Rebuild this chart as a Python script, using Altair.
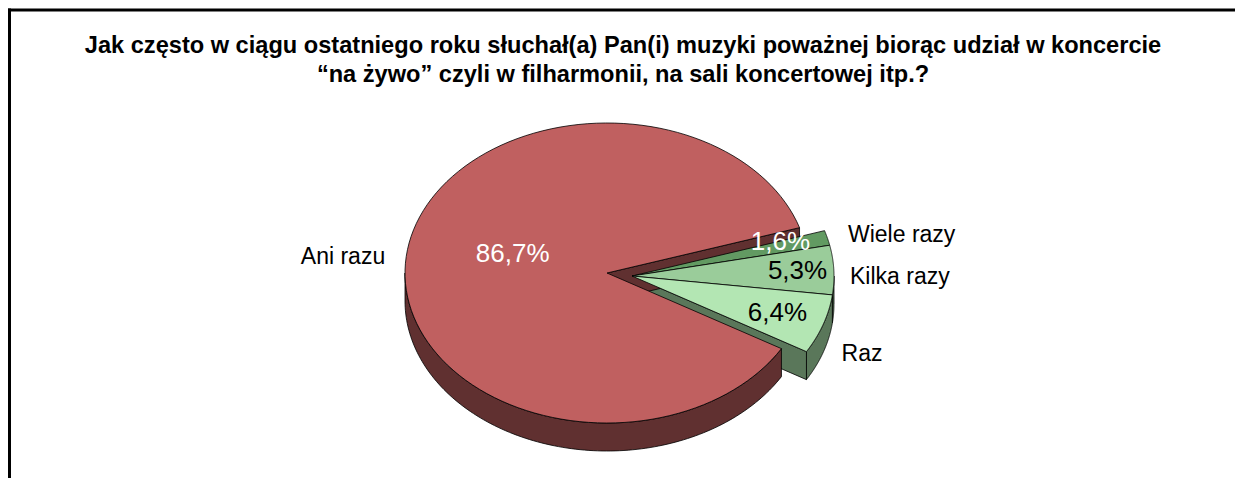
import altair as alt
import pandas as pd

# ---------------- data ----------------
categories = ["Wiele razy", "Kilka razy", "Raz", "Ani razu"]
values = [1.6, 5.3, 6.4, 86.7]
exploded = [1, 1, 1, 0]
title_lines = [
    "Jak często w ciągu ostatniego roku słuchał(a) Pan(i) muzyki poważnej biorąc udział w koncercie",
    "\u201cna żywo\u201d czyli w filharmonii, na sali koncertowej itp.?",
]

# ---------------- style ----------------
top_colors = ["#629A62", "#9ACC9A", "#B3E6B3", "#C06060"]
side_colors = ["#3F5E3F", "#4F6A4F", "#5A775A", "#603030"]
pct_colors = ["#FFFFFF", "#000000", "#000000", "#FFFFFF"]
pct_radius = [0.76, 0.82, 0.76, 0.47]
pct_dy = [-5, 0, 0, -11]
cat_dx = [5, 0, 3, -5]
cat_dy = [0, 8, -2, 2]

W, H = 1227, 470
CX, CY, RX, RY, DEPTH = 599, 265, 202, 150, 28
EXPL_DX, EXPL_DY = 25, 3
START = -17.6
N = 120
LABEL_R = 1.08
FONT = "Liberation Sans"
TITLE_X, TITLE_Y0, TITLE_LH = 615, 38, 29

df = pd.DataFrame({
    "cat": categories,
    "value": values,
    "exploded": exploded,
    "order": list(range(len(categories))),
    "top": top_colors,
    "side": side_colors,
    "pct_color": pct_colors,
    "pct_r": pct_radius,
    "pct_dy": pct_dy,
    "cat_dx": cat_dx,
    "cat_dy": cat_dy,
})

xs = alt.Scale(domain=[0, W], nice=False, zero=False)
ys = alt.Scale(domain=[0, H], nice=False, zero=False, reverse=True)


def base(flag=None):
    c = (
        alt.Chart(df)
        .transform_joinaggregate(total="sum(value)")
        .transform_window(cum="sum(value)", sort=[alt.SortField("order")], frame=[None, 0])
        .transform_calculate(
            a0=f"{START} + 360 * (datum.cum - datum.value) / datum.total",
            a1=f"{START} + 360 * datum.cum / datum.total",
            cx=f"{CX} + datum.exploded * {EXPL_DX}",
            cy=f"{CY} + datum.exploded * {EXPL_DY}",
        )
        .transform_calculate(mid="(datum.a0 + datum.a1) / 2 * PI / 180")
    )
    if flag is not None:
        c = c.transform_filter(f"datum.exploded == {flag}")
    return c


def poly(chart, color_field):
    return chart.mark_line(stroke="black", strokeWidth=0.8, strokeJoin="round").encode(
        x=alt.X("px:Q", scale=xs, axis=None),
        y=alt.Y("py:Q", scale=ys, axis=None),
        fill=alt.Fill(f"{color_field}:N", scale=None),
        detail="cat:N",
        order="k:Q",
    )


def top_layer(flag):
    c = (
        base(flag)
        .transform_calculate(pts=f"sequence(0, {N + 3})")
        .transform_flatten(["pts"], as_=["k"])
        .transform_calculate(
            ang=f"(datum.a0 + (datum.a1 - datum.a0) * (datum.k <= {N} ? datum.k / {N} : 0)) * PI / 180"
        )
        .transform_calculate(
            px=f"datum.k == {N + 1} ? datum.cx : datum.cx + {RX} * cos(datum.ang)",
            py=f"datum.k == {N + 1} ? datum.cy : datum.cy + {RY} * sin(datum.ang)",
        )
    )
    return poly(c, "top")


def rim_layer(flag):
    c = (
        base(flag)
        .transform_calculate(lo="max(datum.a0, 0)", hi="min(datum.a1, 180)")
        .transform_filter("datum.lo < datum.hi")
        .transform_calculate(pts=f"sequence(0, {2 * N + 3})")
        .transform_flatten(["pts"], as_=["k"])
        .transform_calculate(
            t=f"datum.k <= {N} ? datum.k / {N} : (datum.k <= {2 * N + 1} ? 1 - (datum.k - {N + 1}) / {N} : 0)",
            bot=f"(datum.k > {N} && datum.k <= {2 * N + 1}) ? 1 : 0",
        )
        .transform_calculate(ang="(datum.lo + (datum.hi - datum.lo) * datum.t) * PI / 180")
        .transform_calculate(
            px=f"datum.cx + {RX} * cos(datum.ang)",
            py=f"datum.cy + {RY} * sin(datum.ang) + datum.bot * {DEPTH}",
        )
    )
    return poly(c, "side")


def face_layer(flag):
    c = (
        base(flag)
        .transform_joinaggregate(gend="max(a1)", groupby=["exploded"])
        .transform_filter("datum.a1 == datum.gend && cos(datum.a1 * PI / 180) > 0")
        .transform_calculate(pts="sequence(0, 5)")
        .transform_flatten(["pts"], as_=["k"])
        .transform_calculate(rad="datum.a1 * PI / 180",
                             onrim="(datum.k == 1 || datum.k == 2) ? 1 : 0",
                             bot="(datum.k == 2 || datum.k == 3) ? 1 : 0")
        .transform_calculate(
            px=f"datum.cx + datum.onrim * {RX} * cos(datum.rad)",
            py=f"datum.cy + datum.onrim * {RY} * sin(datum.rad) + datum.bot * {DEPTH}",
        )
    )
    return poly(c, "side")


pct = (
    base()
    .transform_calculate(
        px=f"datum.cx + {RX} * datum.pct_r * cos(datum.mid)",
        py=f"datum.cy + {RY} * datum.pct_r * sin(datum.mid) + datum.pct_dy",
        label="replace(format(datum.value, '.1f'), '.', ',') + '%'",
    )
    .mark_text(font=FONT, fontSize=26, baseline="middle", align="center")
    .encode(
        x=alt.X("px:Q", scale=xs, axis=None),
        y=alt.Y("py:Q", scale=ys, axis=None),
        text="label:N",
        color=alt.Color("pct_color:N", scale=None),
    )
)


def cat_labels(right):
    cond = "cos(datum.mid) >= 0" if right else "cos(datum.mid) < 0"
    return (
        base()
        .transform_filter(cond)
        .transform_calculate(
            px=f"datum.cx + {RX} * {LABEL_R} * cos(datum.mid) + datum.cat_dx",
            py=f"datum.cy + {RY} * {LABEL_R} * sin(datum.mid) + (sin(datum.mid) > 0 ? {DEPTH} : 0) + datum.cat_dy",
        )
        .mark_text(font=FONT, fontSize=23, baseline="middle", align="left" if right else "right",
                   color="black")
        .encode(
            x=alt.X("px:Q", scale=xs, axis=None),
            y=alt.Y("py:Q", scale=ys, axis=None),
            text="cat:N",
        )
    )


title_df = pd.DataFrame({"line": title_lines, "i": list(range(len(title_lines)))})
title = (
    alt.Chart(title_df)
    .transform_calculate(px=f"{TITLE_X}", py=f"{TITLE_Y0} + datum.i * {TITLE_LH}")
    .mark_text(font=FONT, fontSize=23.6, fontWeight="bold", baseline="middle", align="center",
               color="black")
    .encode(
        x=alt.X("px:Q", scale=xs, axis=None),
        y=alt.Y("py:Q", scale=ys, axis=None),
        text="line:N",
    )
)

one = pd.DataFrame({"a": [0]})
border_left = alt.Chart(one).mark_rule(color="black", strokeWidth=3).encode(
    x=alt.value(1.5), y=alt.value(0.5), y2=alt.value(H)
)
border_top = alt.Chart(one).mark_rule(color="black", strokeWidth=3).encode(
    x=alt.value(0), x2=alt.value(W), y=alt.value(2)
)

chart = (
    alt.layer(
        rim_layer(1), face_layer(1),
        rim_layer(0), face_layer(0),
        top_layer(0), top_layer(1),
        pct, cat_labels(True), cat_labels(False),
        title, border_left, border_top,
    )
    .properties(width=W, height=H, padding=0, autosize=alt.AutoSizeParams(type="none"),
                background="white")
    .configure_view(stroke=None)
)

chart.save("out.html", embed_options={"renderer": "svg", "actions": False})
